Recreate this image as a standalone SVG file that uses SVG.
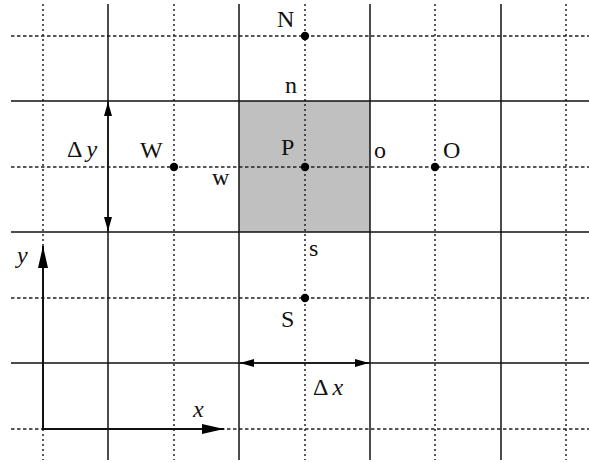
<svg xmlns="http://www.w3.org/2000/svg" width="589" height="463" viewBox="0 0 589 463">
<style>
.hd{stroke:#222;stroke-width:1.3;stroke-dasharray:3.5 2.5;fill:none}
.vd{stroke:#222;stroke-width:1.5;stroke-dasharray:2 3;fill:none}
.sl{stroke:#111;stroke-width:1.5;fill:none}
.ax{stroke:#111;stroke-width:2;fill:none}
.pt{fill:#000}
text{font-family:"Liberation Serif","Times New Roman",serif;font-size:24px;fill:#111}
.it{font-style:italic}
</style>
<defs>
<marker id="ah" viewBox="0 0 14 8" refX="14" refY="4" markerWidth="14" markerHeight="8" markerUnits="userSpaceOnUse" orient="auto-start-reverse"><path d="M0,0 L14,4 L0,8 Z" fill="#000"/></marker>
<marker id="axh" viewBox="0 0 22 10" refX="22" refY="5" markerWidth="22" markerHeight="10" markerUnits="userSpaceOnUse" orient="auto"><path d="M0,0 L22,5 L0,10 Z" fill="#000"/></marker>
</defs>
<rect width="589" height="463" fill="#fff"/>
<g id="cell-P-fill"><rect x="239" y="101" width="131" height="131" fill="#c0c0c0"/></g>
<g id="grid">
<line class="hd" x1="11" y1="36" x2="589" y2="36"/>
<line class="hd" x1="11" y1="167" x2="589" y2="167"/>
<line class="hd" x1="11" y1="298" x2="589" y2="298"/>
<line class="hd" x1="11" y1="429" x2="589" y2="429"/>
<line class="vd" x1="43" y1="4" x2="43" y2="460"/>
<line class="vd" x1="174" y1="4" x2="174" y2="460"/>
<line class="vd" x1="305" y1="4" x2="305" y2="460"/>
<line class="vd" x1="435" y1="4" x2="435" y2="460"/>
<line class="vd" x1="566" y1="4" x2="566" y2="460"/>
<line class="sl" x1="11" y1="101" x2="589" y2="101"/>
<line class="sl" x1="11" y1="232" x2="589" y2="232"/>
<line class="sl" x1="11" y1="363" x2="589" y2="363"/>
<line class="sl" x1="108" y1="4" x2="108" y2="460"/>
<line class="sl" x1="239" y1="4" x2="239" y2="460"/>
<line class="sl" x1="370" y1="4" x2="370" y2="460"/>
<line class="sl" x1="501" y1="4" x2="501" y2="460"/>
</g>
<g id="connectors">
<line class="sl" x1="108" y1="102" x2="108" y2="231" marker-start="url(#ah)" marker-end="url(#ah)"/>
<line class="sl" x1="240" y1="363" x2="369" y2="363" marker-start="url(#ah)" marker-end="url(#ah)"/>
<line class="ax" x1="43" y1="429" x2="43" y2="246" marker-end="url(#axh)"/>
<line class="ax" x1="42" y1="429" x2="224" y2="429" marker-end="url(#axh)"/>
</g>
<g id="node-N"><circle class="pt" cx="305" cy="36" r="4.2"/><text x="277" y="27">N</text></g>
<g id="node-W"><circle class="pt" cx="174" cy="167" r="4.2"/><text x="140" y="158">W</text></g>
<g id="node-P"><circle class="pt" cx="305" cy="167" r="4.2"/><text x="281" y="155">P</text></g>
<g id="node-O"><circle class="pt" cx="435" cy="167" r="4.2"/><text x="443" y="158">O</text></g>
<g id="node-S"><circle class="pt" cx="305" cy="298" r="4.2"/><text x="281" y="327">S</text></g>
<g id="face-n"><text x="285" y="93">n</text></g>
<g id="face-w"><text x="212" y="185">w</text></g>
<g id="face-o"><text x="374" y="158">o</text></g>
<g id="face-s"><text x="309" y="256">s</text></g>
<g id="label-dy"><text x="67" y="157">Δ<tspan class="it" dx="4">y</tspan></text></g>
<g id="label-dx"><text x="313" y="395">Δ<tspan class="it" dx="4">x</tspan></text></g>
<g id="label-y"><text class="it" x="17" y="263">y</text></g>
<g id="label-x"><text class="it" x="193" y="417">x</text></g>
</svg>
